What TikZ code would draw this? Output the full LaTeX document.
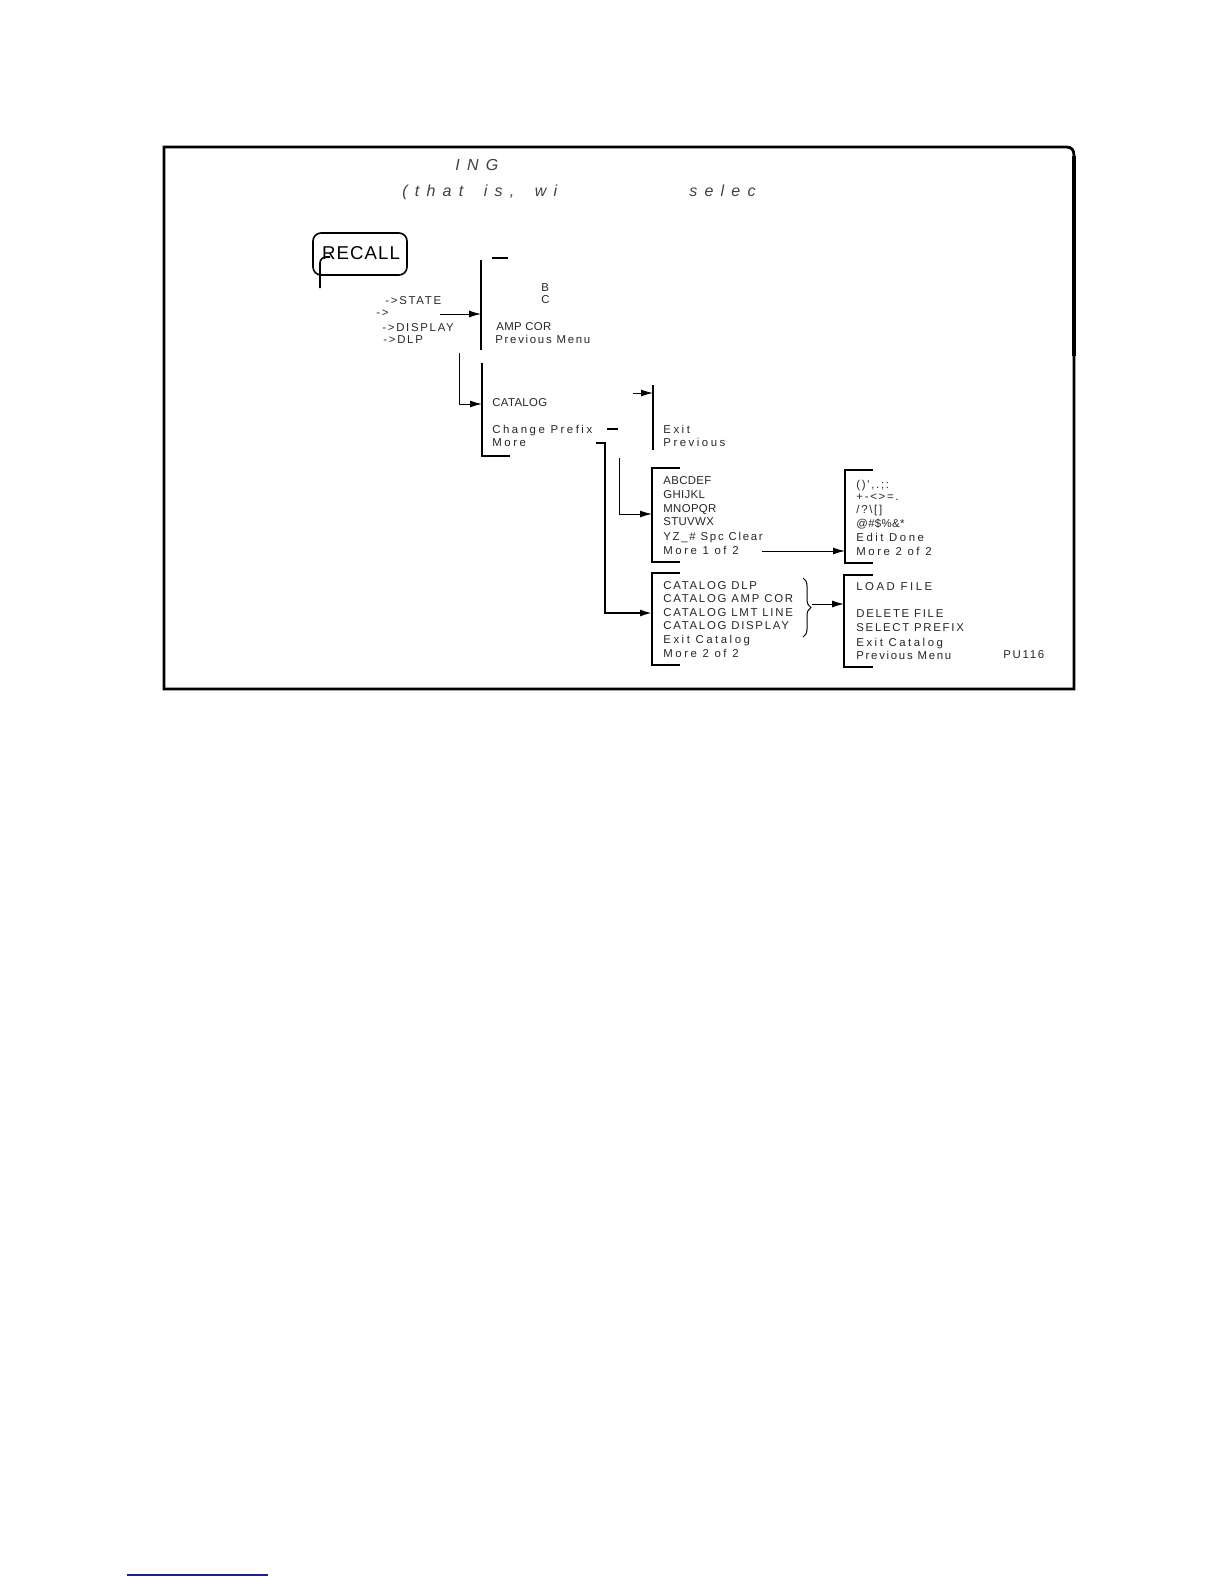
\documentclass[tikz,border=0pt]{standalone}
\usepackage{fontspec}
\setmainfont{Liberation Sans}
\newfontfamily\mfw[LetterSpace=15]{Liberation Sans}
\newfontfamily\mfx[LetterSpace=22]{Liberation Sans}
\newfontfamily\mft[LetterSpace=3]{Liberation Sans}
\newfontfamily\tfont[LetterSpace=45]{Liberation Sans}
\newfontfamily\rfont[LetterSpace=6]{Liberation Sans}
\usetikzlibrary{arrows.meta,decorations.pathreplacing}
\definecolor{linkblue}{RGB}{30,30,140}
\newcommand{\wsp}{\hspace{4.5pt}}
\tikzset{
  wtxt/.style={anchor=west, inner sep=0pt, text height=4.1pt, text depth=0pt, text=black!85, font=\mfw\fontsize{5.7}{6.5}\selectfont},
  xtxt/.style={wtxt, font=\mfx\fontsize{5.7}{6.5}\selectfont},
  ttxt/.style={wtxt, font=\mft\fontsize{5.7}{6.5}\selectfont},
  titletxt/.style={anchor=west, inner sep=0pt, text height=5.7pt, text depth=0pt, text=black!75, font=\tfont\itshape\fontsize{8}{9}\selectfont},
  frame/.style={line width=1.4pt},
  barline/.style={line width=1.1pt},
  conn/.style={line width=0.5pt},
  arr/.style={conn, -{Latex[length=6pt,width=3.5pt]}},
  arrthick/.style={line width=0.9pt, -{Latex[length=6pt,width=3.5pt]}},
}
\begin{document}
\begin{tikzpicture}[x=0.5pt,y=-0.5pt]
\useasboundingbox (0,0) rectangle (1224,1584);

% frame
\draw[frame] (1074,689) -- (164,689) -- (164,147) -- (1066,147)
  .. controls (1072,147) and (1074,150) .. (1074,156) -- cycle;
\draw[line width=2.2pt] (1074,156) -- (1074,356);

% title fragments
\node[titletxt] (t1) at (455,165) {ING};
\node[titletxt] (t2) at (402,191) {(that\wsp{} is,\wsp{} wi};
\node[titletxt] (t3) at (689,191) {selec};

% RECALL key
\draw[line width=0.8pt, rounded corners=4pt] (313,233) rectangle (407,275);
\node[inner sep=0pt, font=\rfont\fontsize{9.3}{10}\selectfont] (recall) at (361,253) {RECALL};
\draw[line width=0.8pt, rounded corners=3pt] (320,288) |- (330,257);

% menu 1
\node[wtxt] (st) at (385,300) {->STATE};
\node[wtxt] (ar) at (376,312) {->};
\node[wtxt] (di) at (382,327) {->DISPLAY};
\node[wtxt] (dl) at (383,339) {->DLP};
\coordinate (a1s) at (440,314);
\coordinate (a1e) at (481,314);
\draw[arr] (a1s) -- (a1e);
\draw[barline] (481,260) -- (481,350);
\draw[barline] (492,258) -- (508,258);
\node[ttxt] (mb) at (541,287) {B};
\node[ttxt] (mc) at (541,299) {C};
\node[ttxt] (amp) at (496,326) {AMP COR};
\node[wtxt] (pm1) at (495,339) {Previous Menu};

% menu 2
\coordinate (c2a) at (459,353);
\coordinate (c2b) at (482,404);
\draw[arr] (c2a) |- (c2b);
\draw[barline] (482,363) -- (482,456) -- (510,456);
\node[ttxt] (cat) at (492,402) {CATALOG};
\node[xtxt] (chp) at (492,429) {Change Prefix};
\node[xtxt] (more1) at (492,442) {More};
\draw[barline] (607,429) -- (618,429);

% menu 3
\coordinate (c3a) at (633,393);
\coordinate (c3b) at (653,393);
\draw[arr] (c3a) -- (c3b);
\draw[barline] (653,385) -- (653,450);
\node[xtxt] (ex1) at (663,429) {Exit};
\node[xtxt] (pr1) at (663,442) {Previous};

% connectors from More
\coordinate (m1) at (596,443);
\coordinate (m2) at (605,443);
\coordinate (m3) at (652,613);
\draw[arrthick] (m1) -- (m2) |- (m3);
\coordinate (n1) at (619,458);
\coordinate (n2) at (652,514);
\draw[arr] (n1) |- (n2);

% menu 4 (letters)
\draw[barline] (680,468) -- (652,468) -- (652,562) -- (680,562);
\node[ttxt] (l1) at (663,480) {ABCDEF};
\node[ttxt] (l2) at (663,494) {GHIJKL};
\node[ttxt] (l3) at (663,508) {MNOPQR};
\node[ttxt] (l4) at (663,521) {STUVWX};
\node[wtxt] (l5) at (663,536) {YZ\_\# Spc Clear};
\node[xtxt] (l6) at (663,550) {More 1 of 2};
\coordinate (a4s) at (762,551);
\coordinate (a4e) at (845,551);
\draw[arr] (a4s) -- (a4e);

% menu 5 (symbols)
\draw[barline] (873,470) -- (845,470) -- (845,563) -- (873,563);
\node[wtxt] (s1) at (856,484) {()',.;:};
\node[wtxt] (s2) at (856,496) {+-<>=.};
\node[wtxt] (s3) at (856,509) {/?\textbackslash[]};
\node[ttxt] (s4) at (856,523) {@\#\$\%\&*};
\node[xtxt] (s5) at (856,537) {Edit Done};
\node[xtxt] (s6) at (856,551) {More 2 of 2};

% menu 6 (catalog)
\draw[barline] (680,573) -- (652,573) -- (652,665) -- (680,665);
\node[wtxt] (k1) at (663,585) {CATALOG DLP};
\node[wtxt] (k2) at (663,598) {CATALOG AMP COR};
\node[wtxt] (k3) at (663,612) {CATALOG LMT LINE};
\node[wtxt] (k4) at (663,625) {CATALOG DISPLAY};
\node[xtxt] (k5) at (663,639) {Exit Catalog};
\node[xtxt] (k6) at (663,653) {More 2 of 2};
\draw[conn, decorate, decoration={brace, amplitude=4pt}] (803,578) -- (803,637);
\coordinate (b6s) at (812,604);
\coordinate (b6e) at (844,604);
\draw[arr] (b6s) -- (b6e);

% menu 7 (file)
\draw[barline] (873,575) -- (844,575) -- (844,667) -- (873,667);
\node[xtxt] (f1) at (856,586) {LOAD FILE};
\node[wtxt] (f2) at (856,613) {DELETE FILE};
\node[wtxt] (f3) at (856,627) {SELECT PREFIX};
\node[xtxt] (f4) at (856,642) {Exit Catalog};
\node[wtxt] (f5) at (856,655) {Previous Menu};
\node[wtxt] (pu) at (1003,654) {PU116};

% link underline
\coordinate (u1) at (127,1575);
\coordinate (u2) at (268,1575);
\draw[linkblue, line width=0.8pt] (u1) -- (u2);
\end{tikzpicture}
\end{document}
